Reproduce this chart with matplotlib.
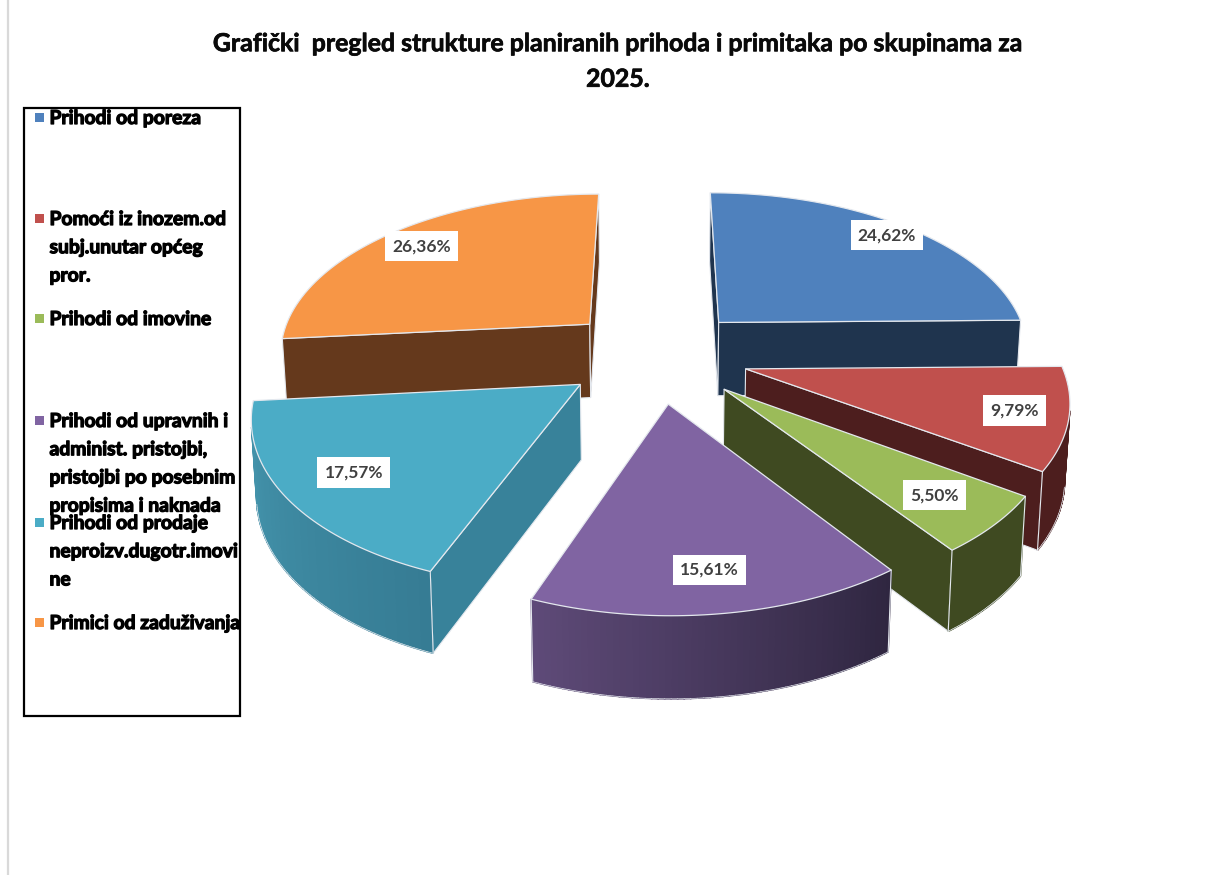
"""Exploded 3D-look pie of planned revenue structure, drawn with a small perspective model."""
import numpy as np
import matplotlib
matplotlib.use("Agg")
import matplotlib.pyplot as plt
import matplotlib.patheffects as pe
from matplotlib.colors import to_rgb
from matplotlib.patches import Polygon, Rectangle

plt.rcParams["font.family"] = ["Lato", "DejaVu Sans"]

TITLE = "Grafički  pregled strukture planiranih prihoda i primitaka po skupinama za\n2025."
LEGEND_LABELS = [
    "Prihodi od poreza",
    "Pomoći iz inozem.od\nsubj.unutar općeg\npror.",
    "Prihodi od imovine",
    "Prihodi od upravnih i\nadminist. pristojbi,\npristojbi po posebnim\npropisima i naknada",
    "Prihodi od prodaje\nneproizv.dugotr.imovi\nne",
    "Primici od zaduživanja",
]
SHARES = [24.62, 9.79, 5.50, 15.61, 17.57, 26.36]
SHARE_LABELS = ["24,62%", "9,79%", "5,50%", "15,61%", "17,57%", "26,36%"]

TOP_COLORS = ["#4f81bd", "#c0504d", "#9bbb59", "#8064a2", "#4bacc6", "#f79646"]
CUT_COLORS = ["#1f344e", "#4d1e1e", "#3f4a21", "#33283f", "#38829a", "#65391c"]
# outer wall colour at the clockwise start and end of each slice
WALL_START = ["#1f344e", "#4d1e1e", "#3f4a21", "#2f2640", "#367c94", "#65391c"]
WALL_END = ["#1f344e", "#4d1e1e", "#3f4a21", "#5e4a78", "#4596ae", "#65391c"]
LEGEND_Y = [118, 219, 319, 421, 523, 623]
LABEL_R = [0.90, 0.84, 0.80, 0.82, 0.79, 0.84]

# projection of the pie, in pixels of the 1228x875 figure
CX, CY = 656, 355
RX, RY = 313, 160
PERSP = 0.16
THICK, THICK_PERSP = 74.5, 0.08
EXPLODE = 0.295
EDGE = "#e4e8ee"


def project(x, z, bottom=False):
    s = 1.0 / (1.0 + PERSP * z)
    px = CX + RX * x * s
    py = CY - RY * z * s
    if bottom:
        px = CX + (px - CX) * 0.987
        py = py + THICK / (1.0 + THICK_PERSP * z)
    return px, py


def disc_point(theta, r, mid):
    # theta runs clockwise from the top of the pie; the slice moves out along mid
    x = r * np.sin(theta) + EXPLODE * np.sin(mid)
    z = r * np.cos(theta) + EXPLODE * np.cos(mid)
    return x, z


def facing(pts):
    p = np.asarray(pts)
    xs, ys = p[:, 0], p[:, 1]
    return np.sum(xs * np.roll(ys, -1) - np.roll(xs, -1) * ys) < 0


def draw_slice(ax, th0, th1, i, zbase):
    mid = 0.5 * (th0 + th1)
    thetas = np.linspace(th0, th1, 60)

    rim_top = [project(*disc_point(t, 1.0, mid)) for t in thetas]
    rim_bot = [project(*disc_point(t, 1.0, mid), bottom=True) for t in thetas]
    apex_top = project(*disc_point(0.0, 0.0, mid))
    apex_bot = project(*disc_point(0.0, 0.0, mid), bottom=True)

    # cut faces, only those turned to the viewer
    first = [apex_top, rim_top[0], rim_bot[0], apex_bot]
    last = [rim_top[-1], apex_top, apex_bot, rim_bot[-1]]
    for face in (first, last):
        if facing(face):
            ax.add_patch(Polygon(face, closed=True, fc=CUT_COLORS[i], ec=EDGE, lw=0.8, zorder=zbase))

    # outer wall, split in quads for the shading
    c0, c1 = np.array(to_rgb(WALL_START[i])), np.array(to_rgb(WALL_END[i]))
    n = len(thetas) - 1
    for k in range(n):
        quad = [rim_top[k], rim_top[k + 1], rim_bot[k + 1], rim_bot[k]]
        if not facing(quad):
            continue
        col = c0 + (c1 - c0) * k / (n - 1)
        ax.add_patch(Polygon(quad, closed=True, fc=col, ec=col, lw=1.1, zorder=zbase + 0.1))
        ax.plot([rim_bot[k][0], rim_bot[k + 1][0]], [rim_bot[k][1], rim_bot[k + 1][1]],
                color=EDGE, lw=0.5, zorder=zbase + 0.2)
        # pale vertical where the wall meets a cut face
        if k == 0:
            ax.plot([rim_top[0][0], rim_bot[0][0]], [rim_top[0][1], rim_bot[0][1]],
                    color=EDGE, lw=0.8, zorder=zbase + 0.2)
        if k == n - 1:
            ax.plot([rim_top[n][0], rim_bot[n][0]], [rim_top[n][1], rim_bot[n][1]],
                    color=EDGE, lw=0.8, zorder=zbase + 0.2)

    top = [apex_top] + rim_top
    ax.add_patch(Polygon(top, closed=True, fc=TOP_COLORS[i], ec=EDGE, lw=0.9,
                         joinstyle="round", zorder=zbase + 0.3))


fig = plt.figure(figsize=(12.28, 8.75), dpi=100, facecolor="white")
ax = fig.add_axes([0, 0, 1, 1])
ax.set_xlim(0, 1228)
ax.set_ylim(875, 0)
ax.axis("off")

# slight grey rule on the left of the page
ax.plot([8, 8], [0, 875], color="#d9d9d9", lw=1.6)

ax.text(618, 61.5, TITLE, ha="center", va="center", fontsize=17.9, fontweight="bold",
        color="#0a0a0a", linespacing=1.66,
        path_effects=[pe.withStroke(linewidth=0.5, foreground="#0a0a0a")])

# slices: far ones first
shares = np.array(SHARES, dtype=float)
edges = np.concatenate([[0.0], np.cumsum(shares / shares.sum())]) * 2 * np.pi
mids = 0.5 * (edges[:-1] + edges[1:])
order = np.argsort(-np.cos(mids))
for rank, i in enumerate(order):
    draw_slice(ax, edges[i], edges[i + 1], i, 2 + rank)

for i, label in enumerate(SHARE_LABELS):
    px, py = project(*disc_point(mids[i], LABEL_R[i], mids[i]))
    ax.text(px, py, label, ha="center", va="center", fontsize=12.5, fontweight="bold",
            color="#404040", zorder=20,
            bbox=dict(boxstyle="square,pad=0.42", fc="white", ec="none"))

# legend box, text overflows it the way the source does
ax.add_patch(Rectangle((24, 108), 216, 608, fc="white", ec="black", lw=1.6, zorder=10))
for label, color, y in zip(LEGEND_LABELS, TOP_COLORS, LEGEND_Y):
    ax.add_patch(Rectangle((35, y - 5), 9, 9, fc=color, ec="none", zorder=11))
    ax.text(49.5, y - 8, label, ha="left", va="top", fontsize=13.9, fontweight="bold", color="black",
            linespacing=1.8, zorder=12,
            path_effects=[pe.withStroke(linewidth=0.9, foreground="black")])

fig.savefig("out.png", dpi=100)
